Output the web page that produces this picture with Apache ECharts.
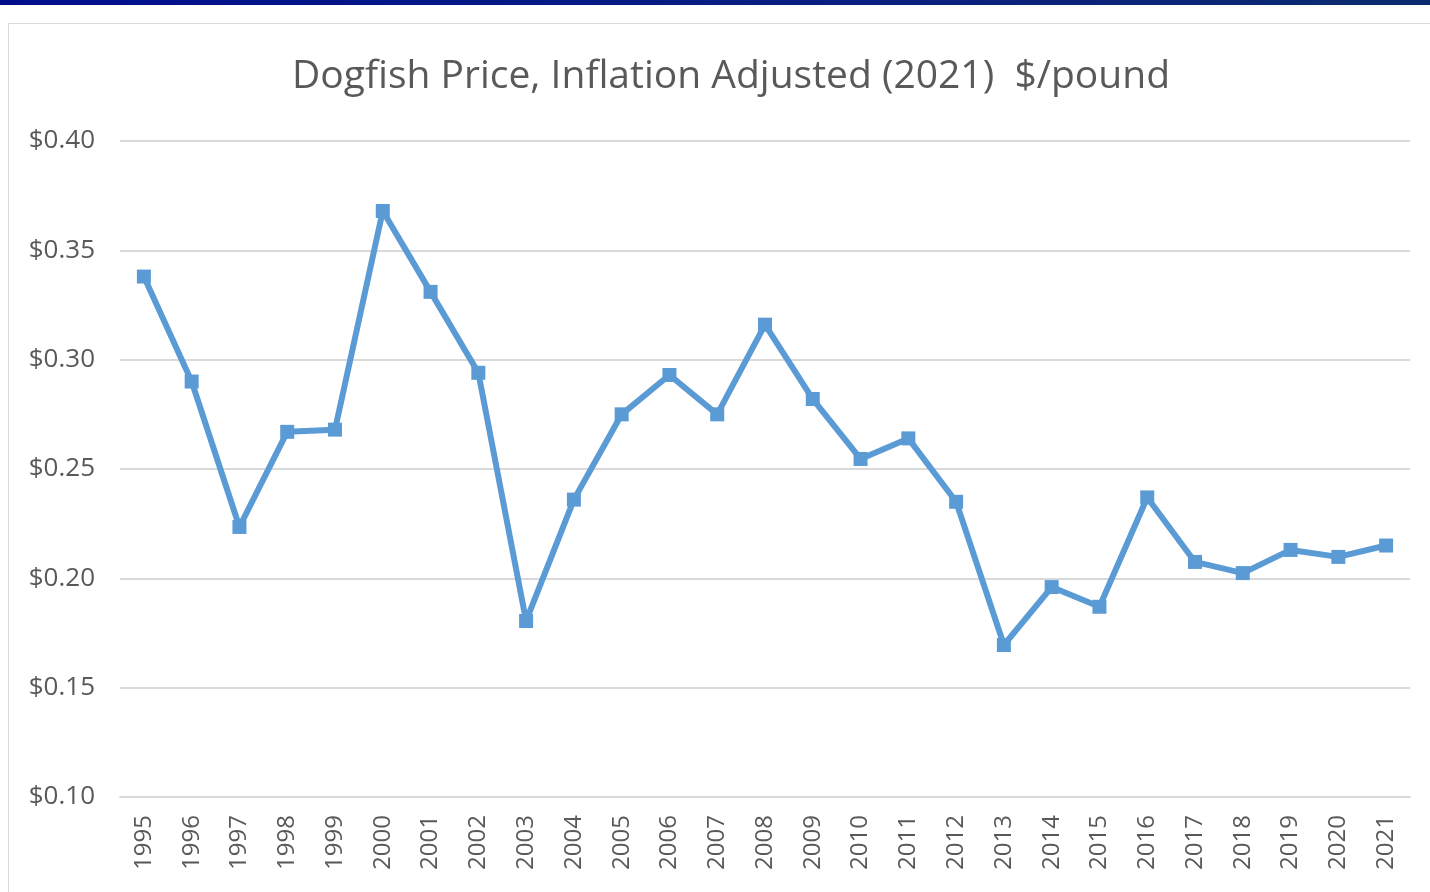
<!DOCTYPE html>
<html><head><meta charset="utf-8">
<script src="https://cdn.jsdelivr.net/npm/echarts@6/dist/echarts.min.js"></script>
<style>
html,body{margin:0;padding:0;background:#fff;width:1430px;height:892px;overflow:hidden;}
#bar{position:absolute;left:0;top:0;width:1430px;height:5px;background:linear-gradient(90deg,#000e8e,#0a1f80 60%,#0b2a6e);}
#panel{position:absolute;left:8px;top:23px;width:1440px;height:900px;border:1px solid #d9d9d9;background:#fff;}
#chart{position:absolute;left:0;top:0;width:1430px;height:892px;}
</style></head>
<body>
<div id="bar"></div>
<div id="panel"></div>
<div id="chart"></div>
<script>
const years = ['1995','1996','1997','1998','1999','2000','2001','2002','2003','2004','2005','2006','2007','2008','2009','2010','2011','2012','2013','2014','2015','2016','2017','2018','2019','2020','2021'];
const prices = [0.338,0.290,0.2235,0.267,0.268,0.368,0.331,0.294,0.1805,0.236,0.275,0.293,0.275,0.316,0.282,0.2546,0.264,0.235,0.1695,0.196,0.187,0.237,0.2075,0.2024,0.213,0.2098,0.215];
const titleText = 'Dogfish Price, Inflation Adjusted (2021)  $/pound';

const chart = echarts.init(document.getElementById('chart'), null, {renderer:'canvas'});
chart.setOption({
  backgroundColor:'transparent',
  animation:false,
  title:{text:titleText,left:726,textAlign:'center',top:52,
    textStyle:{fontFamily:'Open Sans',fontSize:39,fontWeight:'normal',color:'#595959'}},
  grid:{left:120,right:20,top:141,bottom:95,containLabel:false},
  xAxis:{type:'category',data:years,boundaryGap:true,
    axisLine:{show:true,lineStyle:{color:'#d9d9d9',width:2}},
    axisTick:{show:false},
    axisLabel:{rotate:90,margin:18,fontFamily:'Open Sans',fontSize:24,color:'#595959',interval:0}},
  yAxis:{type:'value',min:0.10,max:0.40,interval:0.05,
    axisLine:{show:false},axisTick:{show:false},
    splitLine:{lineStyle:{color:'#d9d9d9',width:2}},
    axisLabel:{margin:25,fontFamily:'Open Sans',fontSize:26,color:'#595959',
      formatter:v=>'$'+v.toFixed(2)}},
  series:[{type:'line',data:prices,symbol:'rect',symbolSize:14,
    lineStyle:{color:'#5b9bd5',width:6},itemStyle:{color:'#5b9bd5'}}]
});
</script>
</body></html>
